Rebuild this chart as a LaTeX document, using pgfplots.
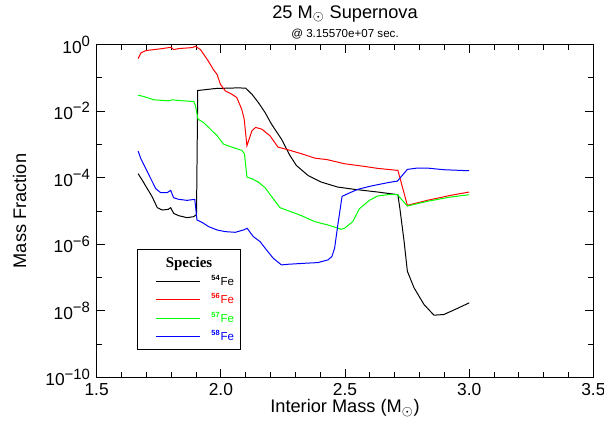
\documentclass[border=0pt]{standalone}
\usepackage{fontspec}
\setmainfont{Liberation Sans}
\newfontfamily\serfont{Liberation Serif}
\usepackage{pgfplots}
\pgfplotsset{compat=1.18}
\definecolor{fered}{RGB}{255,0,0}
\definecolor{fegreen}{RGB}{0,255,0}
\definecolor{feblue}{RGB}{0,0,255}
\newcommand{\tp}[1]{10\textsuperscript{\fontsize{9}{10}\selectfont #1}}
\newcommand{\iso}[1]{\textsuperscript{\fontsize{4.5}{5}\selectfont\bfseries #1}}

\begin{document}
\begin{tikzpicture}
\begin{axis}[
  scale only axis, width=300pt, height=201pt,
  xmin=1.5, xmax=3.5, ymode=log, ymin=1e-10, ymax=1,
  xtick={1.5,2.0,2.5,3.0,3.5}, minor x tick num=4,
  ytick={1e-10,1e-8,1e-6,1e-4,1e-2,1},
  yticklabels={\tp{−10},\tp{−8},\tp{−6},\tp{−4},\tp{−2},\tp{0}},
  minor ytick={1e-9,1e-7,1e-5,1e-3,1e-1},
  /pgf/number format/assume math mode=true,
  xticklabel style={/pgf/number format/.cd, fixed, fixed zerofill, precision=1},
  tick label style={font=\fontsize{10.5}{12}\selectfont},
  major tick length=5pt, minor tick length=3pt,
  tick align=inside,
  axis line style={line width=0.6pt},
  every tick/.style={black, line width=0.5pt},
  xlabel={Interior Mass (M$_\odot$)},
  xlabel style={at={(axis description cs:0.5,-0.0925)}, anchor=center, font=\fontsize{11}{13}\selectfont},
  ylabel={Mass Fraction},
  ylabel style={at={(axis description cs:-0.155,0.5)}, anchor=center, font=\fontsize{11}{13}\selectfont},
  clip mode=individual,
  legend style={at={(0.0814,0.385)}, anchor=north west, draw=black, line width=0.6pt,
    fill=white, inner xsep=4pt, inner ysep=2.5pt, row sep=0pt, column sep=6.6pt,
    nodes={inner sep=0pt, minimum height=11.1pt, font=\fontsize{7}{8}\selectfont}},
  legend cell align=left,
  legend image code/.code={\path (0pt,0pt); \draw[#1, line width=0.6pt] (7pt,0pt) -- (33.4pt,0pt);},
  every axis plot/.append style={line width=0.6pt, mark=none},
]
\addlegendimage{empty legend}
\addlegendentry{\makebox[0pt][l]{\hspace*{-28pt}{\serfont\fontsize{9}{10}\selectfont\bfseries Species}}}

\addplot[black] coordinates {
(1.667,1.32e-4)(1.684,8.32e-5)(1.704,4.68e-5)(1.724,2.63e-5)(1.744,1.26e-5)
(1.764,1.07e-5)(1.788,1.12e-5)(1.798,1.26e-5)(1.810,8.51e-6)(1.830,7.24e-6)
(1.864,6.31e-6)(1.891,6.76e-6)(1.902,7.9e-6)(1.907,4.17e-2)(1.978,4.79e-2)
(2.071,5.01e-2)(2.100,4.90e-2)(2.125,3.24e-2)(2.151,1.82e-2)(2.178,9.12e-3)
(2.204,4.07e-3)(2.244,1.45e-3)(2.278,4.68e-4)(2.304,2.34e-4)(2.351,1.17e-4)
(2.404,7.41e-5)(2.470,5.25e-5)(2.538,4.47e-5)(2.631,3.72e-5)(2.713,3.09e-5)
(2.721,1.17e-5)(2.738,1.20e-6)(2.751,1.55e-7)(2.778,4.90e-8)(2.818,1.55e-8)
(2.858,7.41e-9)(2.898,7.76e-9)(2.951,1.17e-8)(3.000,1.74e-8)};
\addlegendentry{\iso{54}Fe}

\addplot[fered] coordinates {
(1.667,0.380)(1.678,0.562)(1.698,0.661)(1.764,0.759)(1.800,0.832)
(1.810,0.708)(1.830,0.759)(1.885,0.813)(1.898,0.891)(1.918,0.708)
(1.950,0.316)(1.970,0.178)(1.985,0.126)(1.998,6.46e-2)(2.018,4.07e-2)
(2.044,3.24e-2)(2.064,2.57e-2)(2.084,1.15e-2)(2.094,5.75e-3)(2.105,9.12e-4)
(2.125,2.57e-3)(2.140,3.24e-3)(2.165,2.88e-3)(2.198,1.82e-3)(2.230,8.32e-4)
(2.270,6.92e-4)(2.325,5.25e-4)(2.378,3.89e-4)(2.430,3.47e-4)(2.498,2.63e-4)
(2.578,2.19e-4)(2.631,1.91e-4)(2.713,1.66e-4)(2.751,1.48e-5)(2.831,2.09e-5)
(2.925,2.95e-5)(3.000,3.72e-5)};
\addlegendentry{\textcolor{fered}{\iso{56}Fe}}

\addplot[fegreen] coordinates {
(1.667,3.02e-2)(1.690,2.75e-2)(1.731,2.19e-2)(1.790,2.04e-2)(1.804,2.19e-2)
(1.830,2.09e-2)(1.891,1.95e-2)(1.898,1.45e-2)(1.908,5.75e-3)(1.930,4.57e-3)
(1.958,2.88e-3)(1.985,1.82e-3)(2.011,1.02e-3)(2.044,8.32e-4)(2.085,6.61e-4)
(2.095,5.25e-4)(2.105,1.05e-4)(2.125,9.33e-5)(2.151,7.41e-5)(2.178,5.01e-5)
(2.211,2.34e-5)(2.238,1.26e-5)(2.271,1.02e-5)(2.325,7.24e-6)(2.378,4.79e-6)
(2.431,3.80e-6)(2.465,3.16e-6)(2.484,2.82e-6)(2.498,3.02e-6)(2.531,4.79e-6)
(2.558,1.17e-5)(2.598,2.09e-5)(2.631,2.82e-5)(2.671,3.09e-5)(2.711,3.09e-5)
(2.751,1.41e-5)(2.831,1.95e-5)(2.925,2.63e-5)(3.000,3.09e-5)};
\addlegendentry{\textcolor{fegreen}{\iso{57}Fe}}

\addplot[feblue] coordinates {
(1.667,6.31e-4)(1.678,3.72e-4)(1.698,1.86e-4)(1.718,9.33e-5)(1.738,4.68e-5)
(1.758,3.55e-5)(1.784,3.55e-5)(1.798,4.17e-5)(1.810,2.51e-5)(1.830,2.24e-5)
(1.864,2.09e-5)(1.895,2.24e-5)(1.904,5.37e-6)(1.924,4.57e-6)(1.951,3.39e-6)
(1.985,2.69e-6)(2.018,2.40e-6)(2.058,2.29e-6)(2.091,2.69e-6)(2.106,3.02e-6)
(2.131,1.70e-6)(2.158,1.20e-6)(2.184,6.76e-7)(2.211,3.80e-7)(2.244,2.40e-7)
(2.271,2.51e-7)(2.338,2.69e-7)(2.391,2.82e-7)(2.431,3.39e-7)(2.447,4.27e-7)
(2.458,7.59e-7)(2.471,3.80e-6)(2.488,2.75e-5)(2.511,3.31e-5)(2.551,4.47e-5)
(2.604,5.62e-5)(2.671,7.08e-5)(2.711,7.94e-5)(2.751,1.78e-4)(2.791,1.95e-4)
(2.831,1.95e-4)(2.898,1.74e-4)(3.000,1.62e-4)};
\addlegendentry{\textcolor{feblue}{\iso{58}Fe}}

\node[font=\fontsize{11}{13}\selectfont, anchor=center] at (rel axis cs:0.5,1.0925) {25 M$_\odot$ Supernova};
\node[font=\fontsize{7}{8}\selectfont, anchor=center] at (rel axis cs:0.5,1.033) {@ 3.15570e+07 sec.};
\coordinate (bbsw) at (rel axis cs:-0.1946,-0.152);
\coordinate (bbne) at (rel axis cs:1.0214,1.134);
\end{axis}
\pgfresetboundingbox
\path[use as bounding box] (bbsw) rectangle (bbne);
\end{tikzpicture}
\end{document}
